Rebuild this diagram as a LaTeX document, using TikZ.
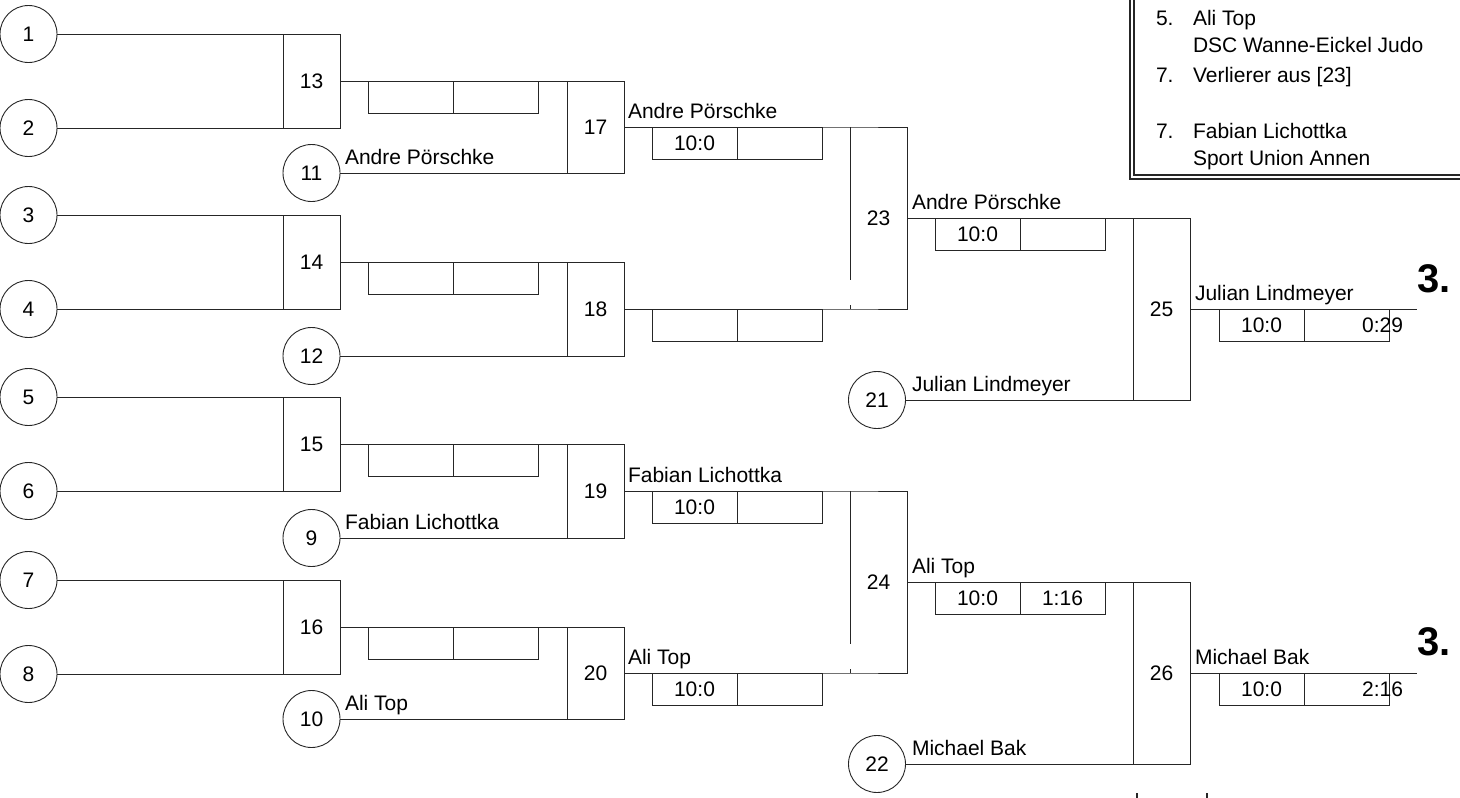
\documentclass[tikz,border=0pt]{standalone}
\usepackage{fontspec}
\setmainfont{Liberation Sans}
\begin{document}
\begin{tikzpicture}[x=1pt,y=-1pt,
  every node/.style={font=\fontsize{21}{25}\selectfont, inner sep=0pt, outer sep=0pt},
  ln/.style={draw=black!85, line width=0.9pt},
  seed/.style={circle, draw=black!85, line width=0.9pt, minimum size=57pt},
  mbox/.style={rectangle, draw=black!85, line width=0.9pt, minimum width=57pt, anchor=north west},
  hbox/.style={rectangle, minimum width=57pt, anchor=north west},
  sbox/.style={rectangle, draw=black!85, line width=0.9pt, minimum width=85pt, minimum height=32pt, anchor=north west},
  pname/.style={anchor=base west},
  place/.style={anchor=base west, font=\fontsize{40}{48}\selectfont\bfseries},
]
\clip (0,0) rectangle (1460,798);
\fill[white] (0,0) rectangle (1460,798);

% legend box
\draw[ln, line width=1.1pt] (1130,-5) -- (1130,179) -- (1470,179);
\draw[ln, line width=1.1pt] (1134,-5) -- (1134,175) -- (1470,175);
\node[pname] (l1n) at (1156,25) {5.};
\node[pname] (l1) at (1193,25) {Ali Top};
\node[pname] (l1c) at (1193,52) {DSC Wanne-Eickel Judo};
\node[pname] (l2n) at (1156,82) {7.};
\node[pname] (l2) at (1193,82) {Verlierer aus [23]};
\node[pname] (l3n) at (1156,138) {7.};
\node[pname] (l3) at (1193,138) {Fabian Lichottka};
\node[pname] (l3c) at (1193,165) {Sport Union Annen};

% seeds round 1
\node[seed] (s1) at (28.5,34) {1};
\node[seed] (s2) at (28.5,128) {2};
\node[seed] (s3) at (28.5,215) {3};
\node[seed] (s4) at (28.5,309) {4};
\node[seed] (s5) at (28.5,397) {5};
\node[seed] (s6) at (28.5,491) {6};
\node[seed] (s7) at (28.5,580) {7};
\node[seed] (s8) at (28.5,674) {8};
\node[seed] (s11) at (311.5,173) {11};
\node[seed] (s12) at (311.5,356) {12};
\node[seed] (s9) at (311.5,538) {9};
\node[seed] (s10) at (311.5,719) {10};
\node[seed] (s21) at (877,400) {21};
\node[seed] (s22) at (877,764) {22};

% match boxes
\node[mbox, minimum height=94pt] (b13) at (283,34) {13};
\node[mbox, minimum height=94pt] (b14) at (283,215) {14};
\node[mbox, minimum height=94pt] (b15) at (283,397) {15};
\node[mbox, minimum height=94pt] (b16) at (283,580) {16};
\node[mbox, minimum height=92pt] (b17) at (567,81) {17};
\node[mbox, minimum height=94pt] (b18) at (567,262) {18};
\node[mbox, minimum height=94pt] (b19) at (567,444) {19};
\node[mbox, minimum height=92pt] (b20) at (567,627) {20};
\node[hbox, minimum height=182pt] (b23) at (850,127) {23};
\node[hbox, minimum height=182pt] (b24) at (850,491) {24};
\node[mbox, minimum height=182pt] (b25) at (1133,218) {25};
\node[mbox, minimum height=182pt] (b26) at (1133,582) {26};

% round 1 connectors
\draw[ln] (s1.east) -- (b13.north east);
\draw[ln] (s2.east) -- (b13.south east);
\draw[ln] (s3.east) -- (b14.north east);
\draw[ln] (s4.east) -- (b14.south east);
\draw[ln] (s5.east) -- (b15.north east);
\draw[ln] (s6.east) -- (b15.south east);
\draw[ln] (s7.east) -- (b16.north east);
\draw[ln] (s8.east) -- (b16.south east);

% round 2 connectors
\draw[ln] (b13.east) -- (b17.north west);
\draw[ln] (s11.east) -- (b17.south west);
\draw[ln] (b14.east) -- (b18.north west);
\draw[ln] (s12.east) -- (b18.south west);
\draw[ln] (b15.east) -- (b19.north west);
\draw[ln] (s9.east) -- (b19.south west);
\draw[ln] (b16.east) -- (b20.north west);
\draw[ln] (s10.east) -- (b20.south west);

% round 3 connectors and broken boxes
\draw[ln] (b17.east) -- (b23.north west) -- (b23.north east) -- (b23.south east) -- (b23.south west) -- (b18.east);
\draw[ln] (b23.north west) -- ++(0,153);
\draw[ln] (b23.south west) -- ++(0,-4);
\draw[ln] (b19.east) -- (b24.north west) -- (b24.north east) -- (b24.south east) -- (b24.south west) -- (b20.east);
\draw[ln] (b24.north west) -- ++(0,153);
\draw[ln] (b24.south west) -- ++(0,-4);

% round 4 connectors
\draw[ln] (b23.east) -- (b25.north west);
\draw[ln] (s21.east) -- (b25.south west);
\draw[ln] (b24.east) -- (b26.north west);
\draw[ln] (s22.east) -- (b26.south west);
\coordinate (e25) at (1417,309);
\coordinate (e26) at (1417,673);
\draw[ln] (b25.east) -- (e25);
\draw[ln] (b26.east) -- (e26);

% score boxes
\node[sbox] (sc13a) at (368,81) {};
\node[sbox] (sc13b) at (453,81) {};
\node[sbox] (sc14a) at (368,262) {};
\node[sbox] (sc14b) at (453,262) {};
\node[sbox] (sc15a) at (368,444) {};
\node[sbox] (sc15b) at (453,444) {};
\node[sbox] (sc16a) at (368,627) {};
\node[sbox] (sc16b) at (453,627) {};
\node[sbox] (sc17a) at (652,127) {10:0};
\node[sbox] (sc17b) at (737,127) {};
\node[sbox] (sc18a) at (652,309) {};
\node[sbox] (sc18b) at (737,309) {};
\node[sbox] (sc19a) at (652,491) {10:0};
\node[sbox] (sc19b) at (737,491) {};
\node[sbox] (sc20a) at (652,673) {10:0};
\node[sbox] (sc20b) at (737,673) {};
\node[sbox] (sc23a) at (935,218) {10:0};
\node[sbox] (sc23b) at (1020,218) {};
\node[sbox] (sc24a) at (935,582) {10:0};
\node[sbox] (sc24b) at (1020,582) {1:16};
\node[sbox] (sc25a) at (1219,309) {10:0};
\node[sbox] (sc25b) at (1304,309) {};
\node[sbox] (sc26a) at (1219,673) {10:0};
\node[sbox] (sc26b) at (1304,673) {};
\node[anchor=east] (t25) at (1403,325) {0:29};
\node[anchor=east] (t26) at (1403,689) {2:16};

% names
\node[pname] (n11) at (345,164) {Andre Pörschke};
\node[pname] (n9) at (345,529) {Fabian Lichottka};
\node[pname] (n10) at (345,710) {Ali Top};
\node[pname] (n17) at (628,118) {Andre Pörschke};
\node[pname] (n19) at (628,482) {Fabian Lichottka};
\node[pname] (n20) at (628,664) {Ali Top};
\node[pname] (n23) at (912,209) {Andre Pörschke};
\node[pname] (n24) at (912,573) {Ali Top};
\node[pname] (n21) at (912,391) {Julian Lindmeyer};
\node[pname] (n22) at (912,755) {Michael Bak};
\node[pname] (n25) at (1195,300) {Julian Lindmeyer};
\node[pname] (n26) at (1195,664) {Michael Bak};

% places
\node[place] (p1) at (1417,292) {3.};
\node[place] (p2) at (1417,655) {3.};

% cut-off marks at bottom
\draw[black!85, line width=1.6pt] (1137,793) -- (1137,799);
\draw[black!85, line width=1.6pt] (1207,793) -- (1207,799);
\end{tikzpicture}
\end{document}
